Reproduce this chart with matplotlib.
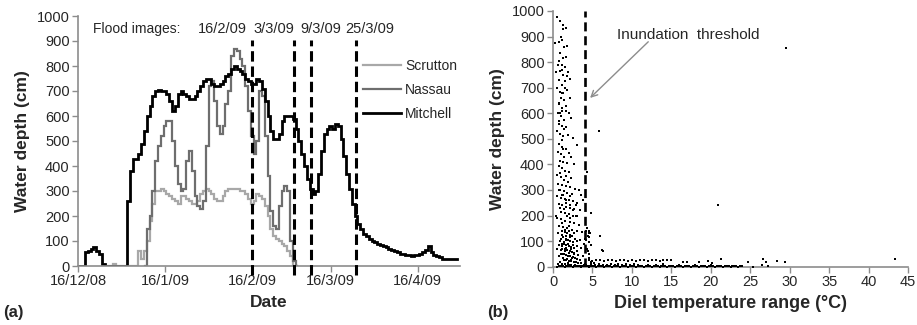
import matplotlib
matplotlib.use("Agg")
import matplotlib.pyplot as plt
import pandas as pd

plt.rcParams['font.family'] = ['Liberation Sans', 'DejaVu Sans']
plt.rcParams['lines.scale_dashes'] = False

# ---------------- Panel (a) data ----------------
mitchell_start = '2008-12-16'
mitchell = [0, 0, 0, 55, 60, 70, 75, 60, 50, 10,
            0, 0, 0, 0, 0, 0, 0, 0, 260, 380,
            430, 430, 450, 490, 540, 600, 640, 680, 700, 705,
            700, 700, 690, 660, 620, 640, 690, 700, 690, 680,
            670, 670, 680, 700, 720, 740, 750, 750, 730, 720,
            720, 730, 740, 760, 770, 790, 800, 790, 780, 770,
            750, 740, 730, 730, 750, 740, 710, 660, 600, 540,
            510, 510, 530, 580, 600, 600, 600, 590, 550, 500,
            450, 400, 350, 310, 290, 300, 370, 460, 530, 550,
            560, 550, 570, 560, 510, 440, 370, 310, 250, 200,
            170, 150, 130, 120, 110, 100, 95, 90, 85, 80,
            75, 70, 65, 60, 55, 50, 50, 45, 45, 40,
            45, 45, 50, 55, 65, 80, 55, 45, 40, 35,
            30, 30, 30, 30, 30, 30]

nassau_start = '2009-01-09'
nassau = [0, 150, 200, 300, 420, 480,
          520, 560, 580, 580, 500,
          400, 330, 300, 310, 420,
          460, 380, 280, 240, 230,
          260, 480, 720, 740, 660,
          560, 530, 560, 650, 700,
          840, 870, 860, 830, 800,
          720, 620, 520, 450, 500,
          700, 680, 520, 360, 220,
          160, 150, 240, 300, 320,
          300, 100, 20, 0]

scrutton_start = '2008-12-26'
scrutton = [0, 0, 0, 10, 0, 0, 0, 0, 0, 0, 0,
            0, 60, 30, 60, 100, 180, 250, 300, 300, 310,
            300, 290, 280, 270, 260, 250, 280, 280, 270, 260,
            250, 250, 260, 290, 300, 310, 300, 290, 270, 260,
            260, 280, 300, 310, 310, 310, 310, 300, 300, 290,
            270, 250, 260, 290, 280, 270, 240, 200, 150, 120,
            110, 100, 90, 80, 60, 40, 0, 0]

flood_dates = ['2009-02-16', '2009-03-03', '2009-03-09', '2009-03-25']
flood_labels = ['16/2/09', '3/3/09', '9/3/09', '25/3/09']
date_ticks = ['2008-12-16', '2009-01-16', '2009-02-16', '2009-03-16', '2009-04-16']
date_tick_labels = ['16/12/08', '16/1/09', '16/2/09', '16/3/09', '16/4/09']
depth_ticks = [0, 100, 200, 300, 400, 500, 600, 700, 800, 900, 1000]

# ---------------- Panel (b) data ----------------
upper_x = [0.5, 0.9, 1.3, 1.7, 0.2, 0.7, 1.1, 1.8, 0.9, 1.3, 0.7, 1.1, 1.5, 0.9, 1.3,
           1.8, 2.2, 0.7, 1.1, 0.5, 0.9, 1.3, 1.8, 1.5, 1.0, 1.4, 0.8, 1.2, 1.6, 0.6,
           1.0, 2.3, 1.4, 0.8, 1.2, 1.7, 0.5, 0.9, 1.3, 1.9, 2.5, 1.1, 0.7, 1.5, 1.9,
           1.2, 0.6, 1.6, 1.4, 1.0, 1.3, 0.4, 2.0, 1.7, 0.9, 1.2, 1.4, 2.1, 0.7, 1.1]
upper_y = [975, 960, 945, 935, 875, 880, 885, 865, 835, 815, 805, 790, 780, 765, 750,
           745, 735, 730, 710, 700, 685, 678, 690, 700, 660, 650, 635, 620, 610, 600,
           590, 580, 575, 560, 550, 545, 530, 520, 510, 515, 505, 495, 640, 725, 760,
           770, 790, 820, 860, 900, 930, 760, 600, 630, 600, 680, 540, 660, 570, 610]

mid_x = [0.8, 1.2, 1.6, 3.0, 0.6, 1.0, 1.4, 2.3, 0.9, 1.3, 1.8, 2.6, 0.7, 1.1, 1.5, 2.0,
         4.3, 0.5, 1.0, 1.4, 1.9, 0.6, 1.2, 1.6, 2.2, 2.8, 3.3, 0.8, 1.4, 1.8, 2.4, 3.6,
         0.5, 1.0, 1.5, 2.0, 2.5, 3.0, 0.7, 1.2, 1.7, 2.2, 2.7, 3.4, 1.0, 1.5, 2.0, 4.8,
         0.4, 1.8, 2.5, 3.1, 1.3, 2.0, 0.9, 1.7, 2.3, 1.1, 2.1, 3.8, 1.6, 0.9, 2.9, 1.4]
mid_y = [480, 470, 460, 475, 450, 440, 430, 430, 415, 410, 405, 400, 395, 385, 375, 370,
         370, 360, 350, 340, 330, 325, 320, 315, 310, 305, 300, 300, 295, 290, 285, 280,
         275, 270, 265, 260, 255, 250, 245, 240, 235, 230, 225, 220, 215, 210, 205, 210,
         200, 200, 200, 200, 460, 445, 365, 355, 345, 280, 275, 260, 250, 230, 240, 225]

low_x = [0.5, 1.0, 1.5, 2.1, 2.7, 3.3, 0.8, 1.3, 1.8, 2.4, 3.0, 3.7, 4.2, 4.5, 0.6, 1.1,
         1.6, 2.2, 2.8, 3.4, 4.0, 6.0, 0.9, 1.4, 1.9, 2.5, 3.1, 3.6, 0.5, 1.0, 1.5, 2.0,
         2.6, 3.2, 3.8, 6.3, 0.8, 1.3, 1.8, 2.3, 2.9, 3.5, 4.1, 0.6, 1.1, 1.6, 2.1, 2.7,
         3.3, 3.9, 4.5, 1.2, 2.0, 2.6, 1.7, 2.3, 1.4, 3.0, 2.0, 1.0, 3.9, 4.4, 0.7, 1.6,
         2.4, 3.4, 1.9, 2.8, 4.8, 5.2, 4.6, 3.0, 2.2, 1.5, 0.9, 1.2]
low_y = [190, 185, 180, 175, 170, 165, 160, 155, 150, 145, 140, 135, 140, 130, 130, 125,
         120, 115, 110, 105, 110, 120, 100, 95, 90, 85, 80, 75, 70, 65, 60, 55,
         50, 45, 40, 60, 40, 35, 30, 25, 20, 15, 10, 10, 5, 2, 5, 3,
         2, 5, 3, 170, 160, 130, 105, 70, 50, 60, 140, 110, 90, 60, 85, 75,
         35, 25, 15, 8, 20, 15, 35, 100, 190, 145, 20, 80]

dense_x = [1.2, 1.5, 1.8, 2.1, 2.4, 1.3, 1.6, 1.9, 2.2, 2.5, 1.1, 1.4, 1.7, 2.0, 2.3, 2.6,
           1.2, 1.5, 1.8, 2.1, 2.4, 2.7, 1.0, 1.3, 1.6, 1.9, 2.2, 2.5, 2.8, 3.1, 1.4, 1.7,
           2.0, 2.3, 2.6, 2.9, 3.2, 1.1, 1.5, 1.9, 2.3, 2.7, 3.1, 3.5, 0.9, 1.3, 1.7, 2.1,
           2.5, 2.9]
dense_y = [140, 135, 130, 125, 120, 115, 110, 105, 100, 95, 90, 88, 85, 82, 78, 75,
           70, 68, 65, 62, 58, 55, 50, 48, 45, 42, 40, 38, 35, 32, 28, 26,
           24, 22, 20, 18, 16, 12, 10, 8, 6, 4, 3, 2, 300, 280, 260, 240,
           220, 200]

edge_x = [4.3, 4.5, 4.7, 4.4, 4.6, 4.2, 4.5, 4.8, 4.3, 4.6]
edge_y = [150, 140, 130, 120, 115, 105, 95, 85, 70, 50]

band_x = [4.5, 5.0, 5.5, 6.0, 6.5, 7.0, 7.5, 8.0, 8.5, 9.0, 9.5, 10.0, 10.5, 11.0, 11.5,
          12.0, 12.5, 13.0, 13.5, 14.0, 14.5, 15.0, 16.5, 17.0, 18.5, 19.6, 20.2, 21.3,
          24.7, 26.6, 27.0, 28.4, 29.4, 43.4]
band_y = [25, 22, 28, 25, 22, 27, 25, 23, 28, 25, 22, 26, 24, 28, 25,
          22, 27, 25, 23, 28, 25, 26, 20, 18, 18, 23, 13, 29,
          20, 30, 18, 23, 20, 30]

shallow_x = [4.2, 4.8, 5.3, 5.8, 6.3, 6.8, 7.3, 7.8, 8.3, 8.8, 9.3, 9.8, 10.3, 10.8, 11.3,
             12.0, 13.0, 14.0, 15.0, 16.0, 18.0, 20.0, 22.0, 24.0, 26.5, 27.3]
shallow_y = [8, 10, 6, 12, 8, 5, 10, 7, 12, 6, 9, 5, 11, 7, 4,
             8, 6, 10, 4, 7, 5, 6, 3, 4, 5, 3]

zero_x = [0.5, 1.0, 1.5, 2.0, 2.5, 3.0, 3.5, 4.0, 4.5, 5.0, 5.5, 6.0, 6.5, 7.0, 7.5, 8.0,
          8.5, 9.0, 9.5, 10.0, 10.5, 11.0, 11.5, 12.0, 12.5, 13.0, 13.5, 14.0, 14.5, 15.0,
          15.5, 16.0, 16.5, 17.0, 17.5, 18.0, 18.5, 19.0, 19.5, 20.0, 20.5, 21.0, 21.5,
          22.0, 22.5, 23.0, 23.5, 24.0, 25.3]
zero_y = [0, 1, 0, 2, 0, 1, 0, 2, 0, 1, 0, 2, 0, 1, 0, 2,
          0, 1, 0, 2, 0, 1, 0, 2, 0, 1, 0, 2, 0, 1,
          0, 2, 0, 1, 0, 2, 0, 1, 0, 2, 0, 1, 0,
          2, 0, 1, 0, 2, 0]

zero2_x = [0.75, 1.25, 1.75, 2.25, 2.75, 3.25, 3.75, 4.25, 4.75, 5.25, 5.75, 6.25, 6.75,
           7.25, 7.75, 8.25, 8.75, 9.25, 9.75, 10.25, 10.75, 11.25, 11.75, 12.25, 12.75,
           13.25, 13.75, 14.25, 14.75, 15.25, 15.75, 16.25, 16.75, 17.25, 17.75, 18.25,
           18.75, 19.25, 19.75, 20.25, 20.75, 21.25, 21.75, 22.25, 22.75, 23.25, 23.75]
zero2_y = [3, 2, 3, 2, 3, 2, 3, 2, 3, 2, 3, 2, 3,
           2, 3, 2, 3, 2, 3, 2, 3, 2, 3, 2, 3,
           2, 3, 2, 3, 2, 3, 2, 3, 2, 3, 2,
           3, 2, 3, 2, 3, 2, 3, 2, 3, 2, 3]

outlier_x = [29.5, 5.8, 20.9, 3.0, 6.2]
outlier_y = [857, 530, 241, 475, 65]

temp_ticks = [0, 5, 10, 15, 20, 25, 30, 35, 40, 45]
threshold = 4

# ---------------- Figure ----------------
AXIS_GREY = '#8c8c8c'
TEXT_COL = '#262626'
fig = plt.figure(figsize=(9.17, 3.25), dpi=100)

# Panel (a)
ax1 = fig.add_axes([78 / 917, 1 - 266 / 325, (460 - 78) / 917, (266 - 16) / 325])
for name, start, vals, col, lw in [('Scrutton', scrutton_start, scrutton, '#a8a8a8', 1.6),
                                   ('Nassau', nassau_start, nassau, '#6e6e6e', 1.6),
                                   ('Mitchell', mitchell_start, mitchell, '#000000', 2.0)]:
    dates = pd.date_range(start, periods=len(vals), freq='D')
    ax1.plot(dates, vals, color=col, lw=lw, drawstyle='steps-mid', label=name,
             solid_joinstyle='miter')

for d in flood_dates:
    ax1.axvline(pd.Timestamp(d), ymin=-0.036, ymax=0.905, color='black', lw=2.2,
                linestyle=(0, (7.5, 3.5)), clip_on=False, zorder=4)

ax1.set_xlim(pd.Timestamp('2008-12-16'), pd.Timestamp('2009-05-01'))
ax1.set_ylim(0, 1000)
ax1.set_xticks([pd.Timestamp(d) for d in date_ticks])
ax1.set_xticklabels(date_tick_labels)
ax1.set_yticks(depth_ticks)
for s in ['top', 'right']:
    ax1.spines[s].set_visible(False)
for s in ['left', 'bottom']:
    ax1.spines[s].set_color(AXIS_GREY)
    ax1.spines[s].set_linewidth(1.2)
ax1.tick_params(axis='both', colors=AXIS_GREY, labelcolor=TEXT_COL, labelsize=10.5,
                length=4, width=1.0, direction='out', pad=2)
ax1.set_xlabel('Date', fontsize=12.5, fontweight='bold', color=TEXT_COL, labelpad=5)
ax1.set_ylabel('Water depth (cm)', fontsize=12.5, fontweight='bold', color=TEXT_COL, labelpad=5)

ax1.text(0.039, 0.948, 'Flood images:', transform=ax1.transAxes, fontsize=10,
         color=TEXT_COL, va='center', ha='left')
for lab, xf in zip(flood_labels, [0.377, 0.513, 0.636, 0.764]):
    ax1.text(xf, 0.948, lab, transform=ax1.transAxes, fontsize=10.5,
             color=TEXT_COL, va='center', ha='center')

leg = ax1.legend(loc='upper left', bbox_to_anchor=(0.745, 0.83), frameon=False,
                 fontsize=10, handlelength=2.8, handletextpad=0.25, labelspacing=0.72,
                 borderaxespad=0, borderpad=0)
for t in leg.get_texts():
    t.set_color(TEXT_COL)

fig.text(3 / 917, 1 - 313 / 325, '(a)', fontsize=12, fontweight='bold',
         color=TEXT_COL, va='center', ha='left')

# Panel (b)
ax2 = fig.add_axes([553 / 917, 1 - 266.7 / 325, (908 - 553) / 917, (266.7 - 11) / 325])
for xs, ys in [(upper_x, upper_y), (mid_x, mid_y), (low_x, low_y), (dense_x, dense_y),
               (edge_x, edge_y), (band_x, band_y), (shallow_x, shallow_y),
               (zero_x, zero_y), (zero2_x, zero2_y), (outlier_x, outlier_y)]:
    ax2.scatter(xs, ys, s=3.5, marker='s', color='black', linewidths=0, zorder=3,
                clip_on=False)

ax2.plot([threshold, threshold], [0, 1000], color='black', lw=1.9,
         linestyle=(0, (6.5, 3.5)), zorder=4)
ax2.annotate('Inundation  threshold', xy=(4.7, 660), xytext=(8.1, 907),
             fontsize=11, color=TEXT_COL, va='center', ha='left',
             arrowprops=dict(arrowstyle='->', color='#8c8c8c', lw=1.0,
                             shrinkA=0, shrinkB=0,
                             patchA=None, relpos=(0.22, 0.0)))

ax2.set_xlim(0, 45)
ax2.set_ylim(0, 1000)
ax2.set_xticks(temp_ticks)
ax2.set_yticks(depth_ticks)
for s in ['top', 'right']:
    ax2.spines[s].set_visible(False)
for s in ['left', 'bottom']:
    ax2.spines[s].set_color(AXIS_GREY)
    ax2.spines[s].set_linewidth(1.2)
ax2.tick_params(axis='both', colors=AXIS_GREY, labelcolor=TEXT_COL, labelsize=10.5,
                length=4, width=1.0, direction='out', pad=2)
ax2.set_xlabel('Diel temperature range (°C)', fontsize=13, fontweight='bold',
               color=TEXT_COL, labelpad=4)
ax2.set_ylabel('Water depth (cm)', fontsize=12.5, fontweight='bold', color=TEXT_COL,
               labelpad=5)

fig.text(487 / 917, 1 - 313 / 325, '(b)', fontsize=12, fontweight='bold',
         color=TEXT_COL, va='center', ha='left')

fig.savefig('out.png', dpi=100)
